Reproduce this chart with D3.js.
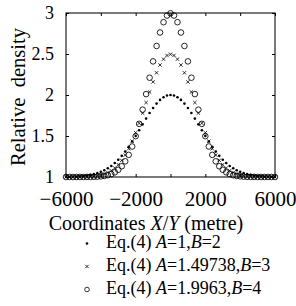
<!DOCTYPE html>
<html><head><meta charset="utf-8">
<script src="https://cdn.jsdelivr.net/npm/d3@7"></script>
<style>body{margin:0;background:#fff}svg{display:block}text{font-family:"Liberation Serif","Times New Roman",serif;fill:#000}</style>
</head><body><svg id="c" width="296" height="306"></svg>
<script>
const xs = [-6000,-5800,-5600,-5400,-5200,-5000,-4800,-4600,-4400,-4200,-4000,-3800,-3600,-3400,-3200,-3000,-2800,-2600,-2400,-2200,-2000,-1800,-1600,-1400,-1200,-1000,-800,-600,-400,-200,0,200,400,600,800,1000,1200,1400,1600,1800,2000,2200,2400,2600,2800,3000,3200,3400,3600,3800,4000,4200,4400,4600,4800,5000,5200,5400,5600,5800,6000];
const seriesDot = [1.002,1.003,1.004,1.006,1.009,1.013,1.019,1.026,1.035,1.047,1.063,1.082,1.106,1.135,1.170,1.211,1.258,1.310,1.369,1.433,1.501,1.571,1.642,1.712,1.780,1.841,1.895,1.940,1.973,1.993,2.000,1.993,1.973,1.940,1.895,1.841,1.780,1.712,1.642,1.571,1.501,1.433,1.369,1.310,1.258,1.211,1.170,1.135,1.106,1.082,1.063,1.047,1.035,1.026,1.019,1.013,1.009,1.006,1.004,1.003,1.002];
const seriesCross = [1.000,1.000,1.001,1.001,1.002,1.003,1.004,1.007,1.011,1.017,1.025,1.038,1.055,1.078,1.110,1.151,1.203,1.267,1.345,1.436,1.540,1.655,1.779,1.908,2.037,2.160,2.271,2.366,2.437,2.482,2.497,2.482,2.437,2.366,2.271,2.160,2.037,1.908,1.779,1.655,1.540,1.436,1.345,1.267,1.203,1.151,1.110,1.078,1.055,1.038,1.025,1.017,1.011,1.007,1.004,1.003,1.002,1.001,1.001,1.000,1.000];
const seriesCircle = [1.000,1.000,1.000,1.000,1.000,1.000,1.001,1.001,1.002,1.004,1.008,1.013,1.022,1.036,1.057,1.088,1.131,1.191,1.270,1.372,1.498,1.648,1.821,2.011,2.211,2.410,2.598,2.762,2.888,2.969,2.996,2.969,2.888,2.762,2.598,2.410,2.211,2.011,1.821,1.648,1.498,1.372,1.270,1.191,1.131,1.088,1.057,1.036,1.022,1.013,1.008,1.004,1.002,1.001,1.001,1.000,1.000,1.000,1.000,1.000,1.000];
const xTicks = [-6000,-4000,-2000,0,2000,4000,6000];
const xTickLabels = ["−6000","","−2000","","2000","","6000"];
const yTicks = [1,1.5,2,2.5,3];
const yTickLabels = ["1","1.5","2","2.5","3"];
const legendA = ["1","1.49738","1.9963"];
const legendB = ["2","3","4"];

const svg = d3.select("#c");
const x = d3.scaleLinear().domain([-6000,6000]).range([66,275]);
const y = d3.scaleLinear().domain([1,3]).range([177,13]);

// frame
svg.append("rect").attr("x",66).attr("y",13).attr("width",209).attr("height",164)
  .attr("fill","none").attr("stroke","#222").attr("stroke-width",1.2);

function styleAxis(g){ g.select(".domain").remove(); g.selectAll("line").attr("stroke","#000"); g.selectAll("text").attr("font-family","Liberation Serif"); }
svg.append("g").attr("transform","translate(0,177)")
  .call(d3.axisBottom(x).tickValues(xTicks).tickSizeInner(-3).tickPadding(14).tickFormat((d,i)=>xTickLabels[i]))
  .call(styleAxis).call(g=>g.selectAll("text").attr("font-size",21));
svg.append("g").attr("transform","translate(0,13)")
  .call(d3.axisTop(x).tickValues(xTicks).tickSizeInner(-3).tickFormat(""))
  .call(styleAxis);
svg.append("g").attr("transform","translate(66,0)")
  .call(d3.axisLeft(y).tickValues(yTicks).tickSizeInner(-3).tickPadding(12).tickFormat((d,i)=>yTickLabels[i]))
  .call(styleAxis).call(g=>g.selectAll("text").attr("font-size",18));
svg.append("g").attr("transform","translate(275,0)")
  .call(d3.axisRight(y).tickValues(yTicks).tickSizeInner(-3).tickFormat(""))
  .call(styleAxis);

// data
const pts = xs.map((v,i)=>({x:v,d:seriesDot[i],c:seriesCross[i],o:seriesCircle[i]}));
svg.append("g").selectAll("circle").data(pts).join("circle")
  .attr("cx",d=>x(d.x)).attr("cy",d=>y(d.d)).attr("r",1.3).attr("fill","#000");
const cs = 1.7;
svg.append("g").selectAll("path").data(pts).join("path")
  .attr("d",d=>{const cx=x(d.x),cy=y(d.c);return `M${cx-cs},${cy-cs}L${cx+cs},${cy+cs}M${cx-cs},${cy+cs}L${cx+cs},${cy-cs}`;})
  .attr("stroke","#000").attr("stroke-width",0.8).attr("fill","none");
svg.append("g").selectAll("circle").data(pts).join("circle")
  .attr("cx",d=>x(d.x)).attr("cy",d=>y(d.o)).attr("r",2.8).attr("fill","none").attr("stroke","#000").attr("stroke-width",0.85);

// axis titles
svg.append("text").attr("transform","translate(25,97) rotate(-90)").attr("text-anchor","middle")
  .attr("font-size",21).attr("textLength",138).attr("lengthAdjust","spacingAndGlyphs").text("Relative\u00A0 density");
const xt = svg.append("text").attr("x",146).attr("y",229.5).attr("text-anchor","middle").attr("font-size",20);
xt.append("tspan").text("Coordinates ");
xt.append("tspan").attr("font-style","italic").text("X");
xt.append("tspan").text("/");
xt.append("tspan").attr("font-style","italic").text("Y");
xt.append("tspan").text(" (metre)");

// legend
const ly = [248,271,294];
legendA.forEach((a,i)=>{
  const yy = ly[i]-4.5;
  if(i===0) svg.append("circle").attr("cx",87).attr("cy",yy).attr("r",1.3).attr("fill","#000");
  if(i===1) svg.append("path").attr("d",`M${87-cs},${yy-cs}L${87+cs},${yy+cs}M${87-cs},${yy+cs}L${87+cs},${yy-cs}`).attr("stroke","#000").attr("stroke-width",0.8);
  if(i===2) svg.append("circle").attr("cx",87).attr("cy",yy).attr("r",2.3).attr("fill","none").attr("stroke","#000").attr("stroke-width",0.8);
  const t = svg.append("text").attr("x",106).attr("y",ly[i]).attr("font-size",18);
  t.append("tspan").text("Eq.(4)\u00A0");
  t.append("tspan").attr("font-style","italic").text("A");
  t.append("tspan").text("="+a+",");
  t.append("tspan").attr("font-style","italic").text("B");
  t.append("tspan").text("="+legendB[i]);
});
</script></body></html>
